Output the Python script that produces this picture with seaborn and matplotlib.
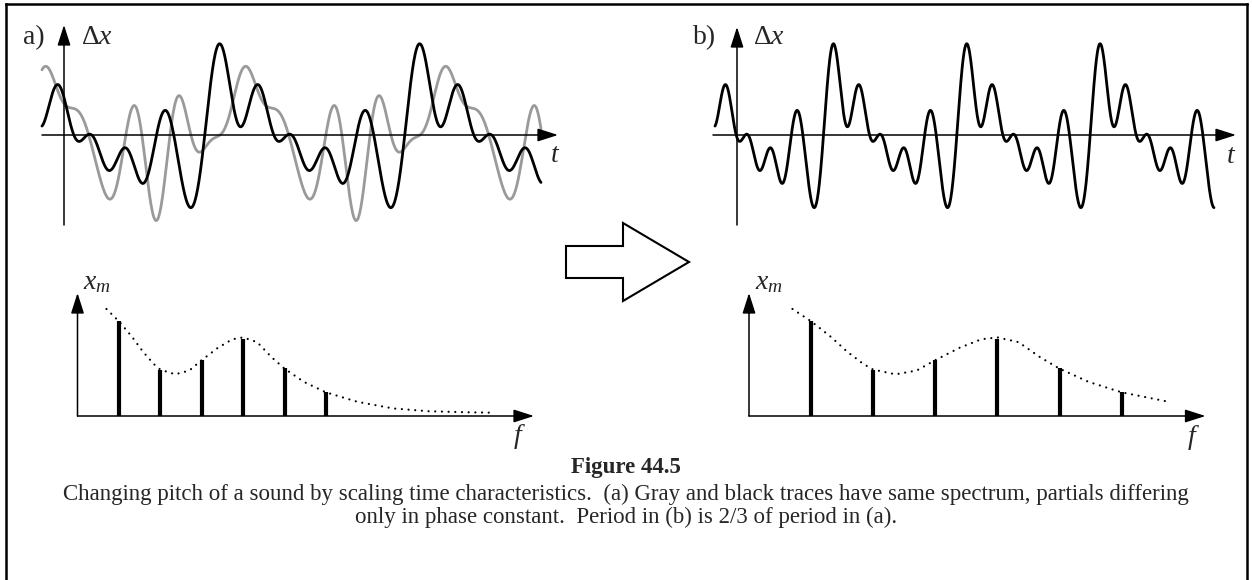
import numpy as np
import matplotlib
matplotlib.use('Agg')
import matplotlib.pyplot as plt
import seaborn as sns
from matplotlib.patches import Polygon
from matplotlib.lines import Line2D

# ---------------- data ----------------
harmonics = np.array([1, 2, 3, 4, 5, 6])
partial_amps = np.array([1.0, 0.49, 0.59, 0.81, 0.51, 0.25])          # x_m of each partial
phase_black_deg = np.array([-37, -72, -20, 24, 63, -48])              # phase constants, black trace
phase_gray_deg = np.array([-38, -126, 159, -94, 58, 131])             # phase constants, gray trace
f0_a = 1.0          # fundamental in (a)
f0_b = 1.5          # fundamental in (b): period is 2/3 of (a)
t_start, t_end = -0.11, 2.385
phase_start = -0.89  # cycles of the fundamental at t_start

env_harm = np.array([0.70, 1.0, 1.32, 1.58, 1.84, 2.0, 2.36, 2.70, 3.0, 3.39, 3.74, 4.0,
                     4.34, 4.69, 5.0, 5.47, 6.0, 6.76, 7.62, 8.49, 9.35, 10.0])
env_amp = np.array([1.13, 1.0, 0.835, 0.68, 0.55, 0.49, 0.44, 0.48, 0.59, 0.72, 0.81, 0.83,
                    0.78, 0.62, 0.50, 0.36, 0.25, 0.15, 0.08, 0.05, 0.04, 0.035])

caption_title = "Figure 44.5"
caption_1 = ("Changing pitch of a sound by scaling time characteristics.  (a) Gray and black traces "
             "have same spectrum, partials differing")
caption_2 = "only in phase constant.  Period in (b) is 2/3 of period in (a)."

# ---------------- style ----------------
sns.set_theme(style='white')
plt.rcParams['font.family'] = ['Liberation Serif', 'DejaVu Serif']
plt.rcParams['mathtext.fontset'] = 'custom'
plt.rcParams['mathtext.rm'] = 'Liberation Serif'
plt.rcParams['mathtext.it'] = 'Liberation Serif:italic'

W, H = 1252, 580
fig = plt.figure(figsize=(W / 100, H / 100), dpi=100)

WAVE_PX = 200.0    # px per unit time
AMP_PX = 34.5      # px per unit amplitude (waveform)
F_PX = 41.4        # px per unit frequency (spectrum)
XM_PX = 94.7       # px per unit amplitude (spectrum)
LABEL_FS = 20
CAP_FS = 16.5


def fx(x):
    return x / W


def fy(y):
    return 1 - y / H


def px_axes(x0, y0, x1, y1):
    ax = fig.add_axes([fx(x0), fy(y1), (x1 - x0) / W, (y1 - y0) / H])
    ax.set_axis_off()
    return ax


def arrow(ax, start, tip):
    ax.annotate('', xy=tip, xytext=start, annotation_clip=False,
                arrowprops=dict(arrowstyle='-|>,head_length=1.25,head_width=0.4',
                                mutation_scale=10, color='black', lw=1.1,
                                shrinkA=0, shrinkB=0))


def waveform(t, f0, phases_deg):
    p = f0 * (t - t_start) + phase_start
    ph = np.radians(phases_deg)
    return (partial_amps[None, :] *
            np.cos(2 * np.pi * harmonics[None, :] * p[:, None] + ph[None, :])).sum(1)


def wave_panel(ox, oy, x_left, x_tip, y_tip, y_bot, f0, under, over):
    ax = px_axes(x_left - 5, 15, x_tip + 10, 240)
    ax.set_xlim((x_left - 5 - ox) / WAVE_PX, (x_tip + 10 - ox) / WAVE_PX)
    ax.set_ylim((oy - 240) / AMP_PX, (oy - 15) / AMP_PX)
    t = np.linspace(t_start, t_end, 2000)
    for ph, col in under:
        sns.lineplot(x=t, y=waveform(t, f0, ph), ax=ax, color=col, lw=2.0, sort=False)
    arrow(ax, ((x_left - ox) / WAVE_PX, 0), ((x_tip - ox) / WAVE_PX, 0))
    arrow(ax, (0, (oy - y_bot) / AMP_PX), (0, (oy - y_tip) / AMP_PX))
    for ph, col in over:
        sns.lineplot(x=t, y=waveform(t, f0, ph), ax=ax, color=col, lw=2.0, sort=False)
    return ax


def spec_panel(ox, oy, f0, env_max_f):
    ax = px_axes(ox, 280, ox + 470, 420)
    ax.set_xlim(0, 470 / F_PX)
    ax.set_ylim((oy - 420) / XM_PX, (oy - 280) / XM_PX)
    m = env_harm * f0 <= env_max_f
    sns.lineplot(x=env_harm[m] * f0, y=env_amp[m], ax=ax, color='black', lw=1.6,
                 linestyle=(0, (0.01, 3.0)), dash_capstyle='round')
    ax.vlines(harmonics * f0, 0, partial_amps, color='black', lw=3.0)
    arrow(ax, (0, 0), ((534 - 77.5) / F_PX, 0))
    arrow(ax, (0, 0), (0, (oy - 293) / XM_PX))
    return ax


# (a) waveforms: gray under the axes, black over
wave_panel(64, 135, 42, 558, 25, 225, f0_a,
           [(phase_gray_deg, '#9a9a9a')], [(phase_black_deg, 'black')])
# (b) waveform: same partials, time scaled
wave_panel(737, 135, 713, 1236, 27, 225, f0_b, [], [(phase_black_deg, 'black')])

spec_panel(77.5, 416, f0_a, 10.05)
spec_panel(749, 416, f0_b, 10.35)


def txt(x, y, s, **kw):
    fig.text(fx(x), fy(y), s, va='baseline', **kw)


txt(23, 44, 'a)', fontsize=LABEL_FS)
txt(81, 44, r'$\Delta x$', fontsize=LABEL_FS)
txt(551, 162, 't', fontsize=LABEL_FS, style='italic')
txt(693, 44, 'b)', fontsize=LABEL_FS)
txt(753, 44, r'$\Delta x$', fontsize=LABEL_FS)
txt(1227, 163, 't', fontsize=LABEL_FS, style='italic')
txt(83, 289, r'$x_m$', fontsize=LABEL_FS)
txt(755, 289, r'$x_m$', fontsize=LABEL_FS)
txt(514, 443, 'f', fontsize=LABEL_FS, style='italic')
txt(1188, 444, 'f', fontsize=LABEL_FS, style='italic')

# middle hollow arrow
pts = [(566, 246), (623, 246), (623, 223), (689, 262), (623, 301), (623, 278), (566, 278)]
fig.add_artist(Polygon([(fx(x), fy(y)) for x, y in pts], closed=True, facecolor='white',
                       edgecolor='black', lw=1.5, transform=fig.transFigure))

# caption
fig.text(0.5, fy(467), caption_title, ha='center', va='center', fontsize=CAP_FS, fontweight='bold')
fig.text(0.5, fy(494), caption_1, ha='center', va='center', fontsize=CAP_FS)
fig.text(0.5, fy(517), caption_2, ha='center', va='center', fontsize=CAP_FS)

# frame
for (xa, ya), (xb, yb) in [((6, 600), (6, 4)), ((6, 4), (1247, 4)), ((1247, 4), (1247, 600))]:
    fig.add_artist(Line2D([fx(xa), fx(xb)], [fy(ya), fy(yb)], color='black', lw=1.8,
                          transform=fig.transFigure, solid_capstyle='projecting'))

fig.savefig('out.png', dpi=100)
